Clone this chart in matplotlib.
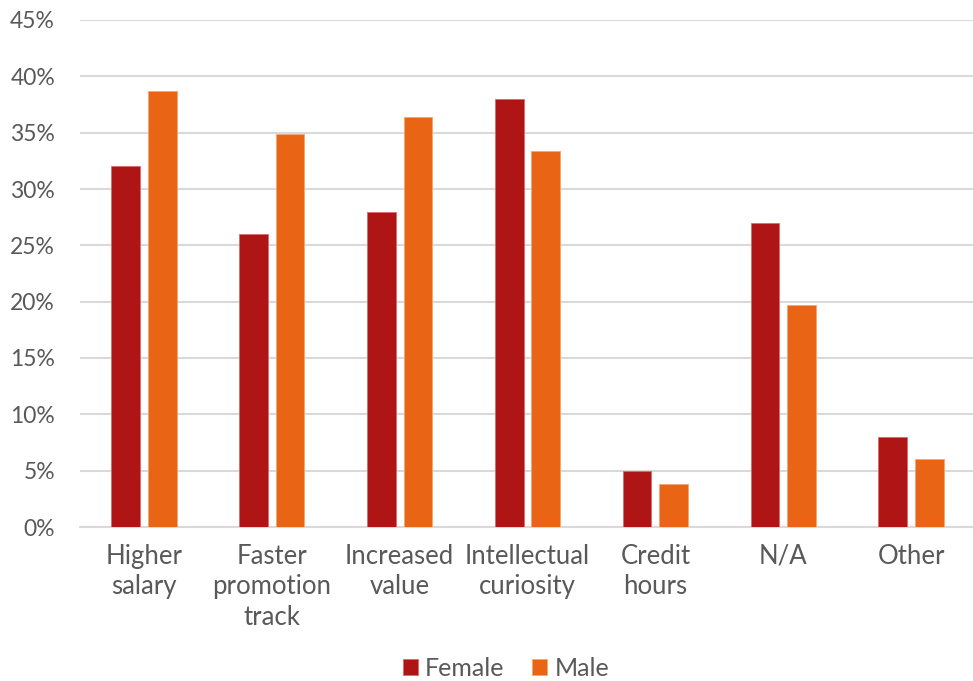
import numpy as np
import matplotlib.pyplot as plt
from matplotlib.ticker import FuncFormatter

categories = ["Higher\nsalary", "Faster\npromotion\ntrack", "Increased\nvalue",
              "Intellectual\ncuriosity", "Credit\nhours", "N/A", "Other"]
female = [32.0, 26.0, 28.0, 38.0, 5.0, 27.0, 8.0]
male = [38.7, 34.9, 36.4, 33.4, 3.8, 19.7, 6.0]

FEMALE_COLOR = "#B01515"
MALE_COLOR = "#E96414"
TEXT_COLOR = "#595959"

plt.rcParams["font.family"] = ["Lato", "DejaVu Sans"]

fig = plt.figure(figsize=(9.73, 6.81), dpi=100)
ax = fig.add_axes([80 / 973, 1 - 527 / 681, 895 / 973, 507 / 681])

x = np.arange(len(categories))
width = 0.225
offset = 0.143
ax.bar(x - offset, female, width, color=FEMALE_COLOR, label="Female",
       edgecolor="#D86A6A", linewidth=0.6, zorder=3)
ax.bar(x + offset, male, width, color=MALE_COLOR, label="Male",
       edgecolor="#F4A674", linewidth=0.6, zorder=3)

ax.set_xlim(-0.5, len(categories) - 0.5)
ax.set_ylim(0, 45)
ax.set_yticks(np.arange(0, 46, 5))
ax.yaxis.set_major_formatter(FuncFormatter(lambda v, _: f"{v:.0f}%"))
ax.grid(axis="y", color="#D9D9D9", linewidth=1.5, zorder=0)
ax.set_axisbelow(True)

ax.set_xticks(x)
ax.set_xticklabels(categories, linespacing=1.28)
ax.tick_params(axis="x", length=0, pad=12, labelsize=18.5, colors=TEXT_COLOR)
ax.tick_params(axis="y", length=0, pad=18, labelsize=16.5, colors=TEXT_COLOR)

for side in ["top", "right", "left"]:
    ax.spines[side].set_visible(False)
ax.spines["bottom"].set_color("#D9D9D9")
ax.spines["bottom"].set_linewidth(1.5)

leg = fig.legend(loc="center", bbox_to_anchor=(506 / 973, 1 - 668 / 681), ncol=2,
                 frameon=False, fontsize=18, handlelength=0.6, handleheight=0.6,
                 handletextpad=0.3, columnspacing=1.1)
for t in leg.get_texts():
    t.set_color(TEXT_COLOR)

fig.savefig("out.png", dpi=100)
